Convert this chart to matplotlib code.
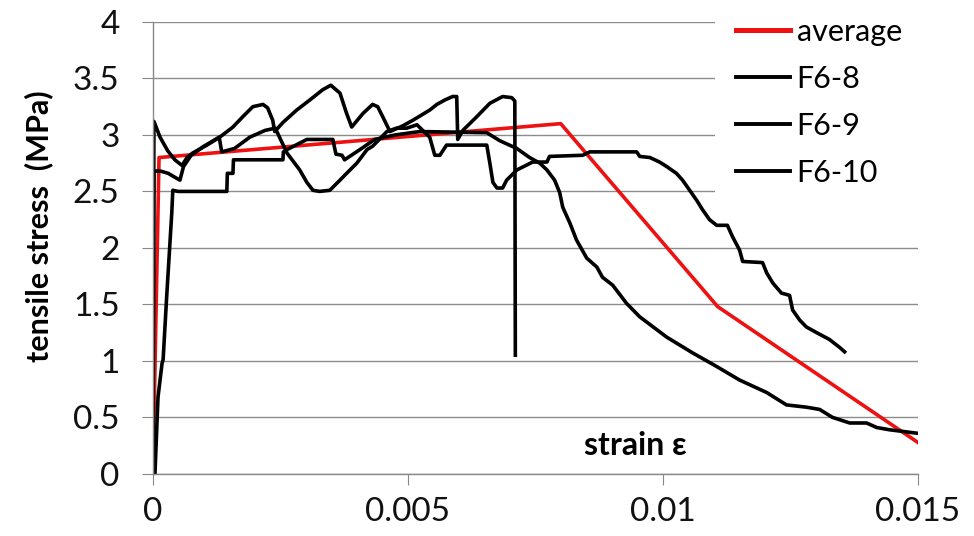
import matplotlib
matplotlib.use('Agg')
import matplotlib.pyplot as plt

plt.rcParams['font.family'] = ['Lato', 'DejaVu Sans']

# strain values (-) and tensile stress (MPa)
avg_strain = [0, 0.00012, 0.0080, 0.01108, 0.015]
avg_stress = [0, 2.80, 3.10, 1.48, 0.28]

f68_strain = [0, 0.00002, 0.00014, 0.00029, 0.00043, 0.00057, 0.00067, 0.00078,
              0.00106, 0.00131, 0.00157, 0.00176, 0.00196, 0.00216, 0.00225,
              0.00235, 0.00239, 0.00255, 0.00282, 0.00308, 0.00333, 0.00349,
              0.00367, 0.00380, 0.00390, 0.00412, 0.00431, 0.00441, 0.00451,
              0.00465, 0.00490, 0.00510, 0.00543, 0.00557, 0.00573, 0.00588,
              0.00596, 0.00598, 0.00608, 0.00635, 0.00661, 0.00686, 0.00704,
              0.00710, 0.00711]
f68_stress = [0, 3.12, 2.98, 2.86, 2.78, 2.73, 2.80, 2.84,
              2.91, 2.98, 3.07, 3.16, 3.25, 3.27, 3.24,
              3.13, 3.03, 3.11, 3.22, 3.31, 3.40, 3.44,
              3.37, 3.19, 3.07, 3.19, 3.27, 3.25, 3.16,
              3.03, 3.08, 3.13, 3.22, 3.27, 3.31, 3.34,
              3.34, 2.96, 3.04, 3.16, 3.28, 3.34, 3.33,
              3.30, 1.05]

f69_strain = [0, 0.00002, 0.00015, 0.0003, 0.00045, 0.00053, 0.0006, 0.00075,
              0.0010, 0.0013, 0.00135, 0.0016, 0.0019, 0.0022, 0.0024,
              0.00263, 0.00288, 0.00302, 0.00314, 0.00327, 0.00347, 0.00367,
              0.00380, 0.00400, 0.00420, 0.00431, 0.00459, 0.00478, 0.00498,
              0.00518, 0.00543, 0.00553, 0.00563, 0.00576, 0.00655, 0.00661,
              0.00667, 0.00675, 0.00686, 0.00694, 0.00714, 0.00745, 0.00773,
              0.00778, 0.00843, 0.00857, 0.00949, 0.00955, 0.00975, 0.00994,
              0.01008, 0.01027, 0.01039, 0.01053, 0.01067, 0.01078, 0.01092,
              0.01106, 0.01127, 0.01137, 0.01151, 0.01157, 0.01196, 0.01204,
              0.01216, 0.01233, 0.01249, 0.01255, 0.01269, 0.01282, 0.01302,
              0.01327, 0.01347, 0.01357]
f69_stress = [0, 2.68, 2.68, 2.66, 2.62, 2.60, 2.72, 2.82,
              2.90, 2.98, 2.85, 2.88, 2.98, 3.04, 3.06,
              2.84, 2.69, 2.58, 2.51, 2.50, 2.51, 2.60,
              2.66, 2.75, 2.87, 2.90, 3.03, 3.06, 3.06,
              3.09, 2.98, 2.82, 2.82, 2.91, 2.91, 2.75,
              2.58, 2.53, 2.53, 2.60, 2.69, 2.76, 2.76,
              2.81, 2.82, 2.85, 2.85, 2.81, 2.80, 2.76,
              2.72, 2.66, 2.60, 2.51, 2.42, 2.34, 2.25,
              2.20, 2.20, 2.10, 1.98, 1.88, 1.87, 1.78,
              1.69, 1.60, 1.58, 1.45, 1.36, 1.30, 1.25,
              1.19, 1.12, 1.08]

f610_strain = [0, 0.00004, 0.0001, 0.00018, 0.0002, 0.00027, 0.00037, 0.00039,
               0.00049, 0.00145, 0.00146, 0.00157, 0.00158, 0.00255, 0.00256,
               0.00263, 0.00302, 0.00353, 0.00359, 0.00371, 0.00376, 0.00406,
               0.00435, 0.00475, 0.00524, 0.00655, 0.00680, 0.00714, 0.00739,
               0.00759, 0.00773, 0.00788, 0.00798, 0.00804, 0.00818, 0.00831,
               0.00851, 0.00871, 0.00882, 0.00902, 0.00929, 0.00955, 0.01008,
               0.01059, 0.01106, 0.01151, 0.01204, 0.01243, 0.01282, 0.01308,
               0.01333, 0.01367, 0.01400, 0.01420, 0.01445, 0.01498]
f610_stress = [0, 0, 0.68, 0.98, 1.01, 1.57, 2.31, 2.51,
               2.50, 2.50, 2.66, 2.66, 2.78, 2.78, 2.85,
               2.87, 2.96, 2.96, 2.83, 2.82, 2.78, 2.87,
               2.96, 3.00, 3.03, 3.02, 2.95, 2.88, 2.80,
               2.75, 2.69, 2.60, 2.49, 2.36, 2.22, 2.07,
               1.91, 1.83, 1.74, 1.67, 1.51, 1.39, 1.21,
               1.07, 0.95, 0.83, 0.72, 0.61, 0.59, 0.57,
               0.50, 0.45, 0.45, 0.41, 0.39, 0.36]

x_ticks = [0, 0.005, 0.01, 0.015]
x_labels = ['0', '0.005', '0.01', '0.015']
y_ticks = [0, 0.5, 1, 1.5, 2, 2.5, 3, 3.5, 4]
y_labels = ['0', '0.5', '1', '1.5', '2', '2.5', '3', '3.5', '4']

fig = plt.figure(figsize=(9.74, 5.36), dpi=100)
ax = fig.add_axes([0.157, 0.116, 0.785, 0.843])

ax.plot(avg_strain, avg_stress, color='#ee1111', lw=2.6, label='average')
ax.plot(f68_strain, f68_stress, color='black', lw=2.6, label='F6-8')
ax.plot(f69_strain, f69_stress, color='black', lw=2.6, label='F6-9')
ax.plot(f610_strain, f610_stress, color='black', lw=2.6, label='F6-10')

ax.set_xlim(0, 0.015)
ax.set_ylim(0, 4)
ax.set_xticks(x_ticks)
ax.set_xticklabels(x_labels)
ax.set_yticks(y_ticks)
ax.set_yticklabels(y_labels)
ax.tick_params(axis='both', labelsize=24, length=8, color='#888888',
               direction='out', labelcolor='#111111')
ax.tick_params(axis='y', pad=16)
ax.tick_params(axis='x', pad=9)
ax.grid(axis='y', color='#8c8c8c', lw=1)
ax.set_axisbelow(True)
for s in ['top', 'right']:
    ax.spines[s].set_visible(False)
for s in ['left', 'bottom']:
    ax.spines[s].set_color('#888888')
    ax.spines[s].set_linewidth(1)

ax.text(0.00947, 0.25, 'strain ε', fontsize=23, fontweight='bold',
        ha='center', va='center')
fig.text(0.040, 1 - 226 / 536, 'tensile stress  (MPa)', fontsize=22,
         fontweight='bold', rotation=90, ha='center', va='center')

leg = ax.legend(loc='upper left', bbox_to_anchor=(715 / 974, 1.006),
                bbox_transform=fig.transFigure, fontsize=22, frameon=True,
                handlelength=1.75, handletextpad=0.22, labelspacing=0.62,
                borderpad=0.7, borderaxespad=0)
leg.get_frame().set_facecolor('white')
leg.get_frame().set_edgecolor('none')
leg.get_frame().set_alpha(1)
leg_lines = leg.get_lines()
leg_lines[0].set_linewidth(3.6)
for line in leg_lines[1:]:
    line.set_linewidth(2.8)

plt.savefig('out.png', dpi=100)
